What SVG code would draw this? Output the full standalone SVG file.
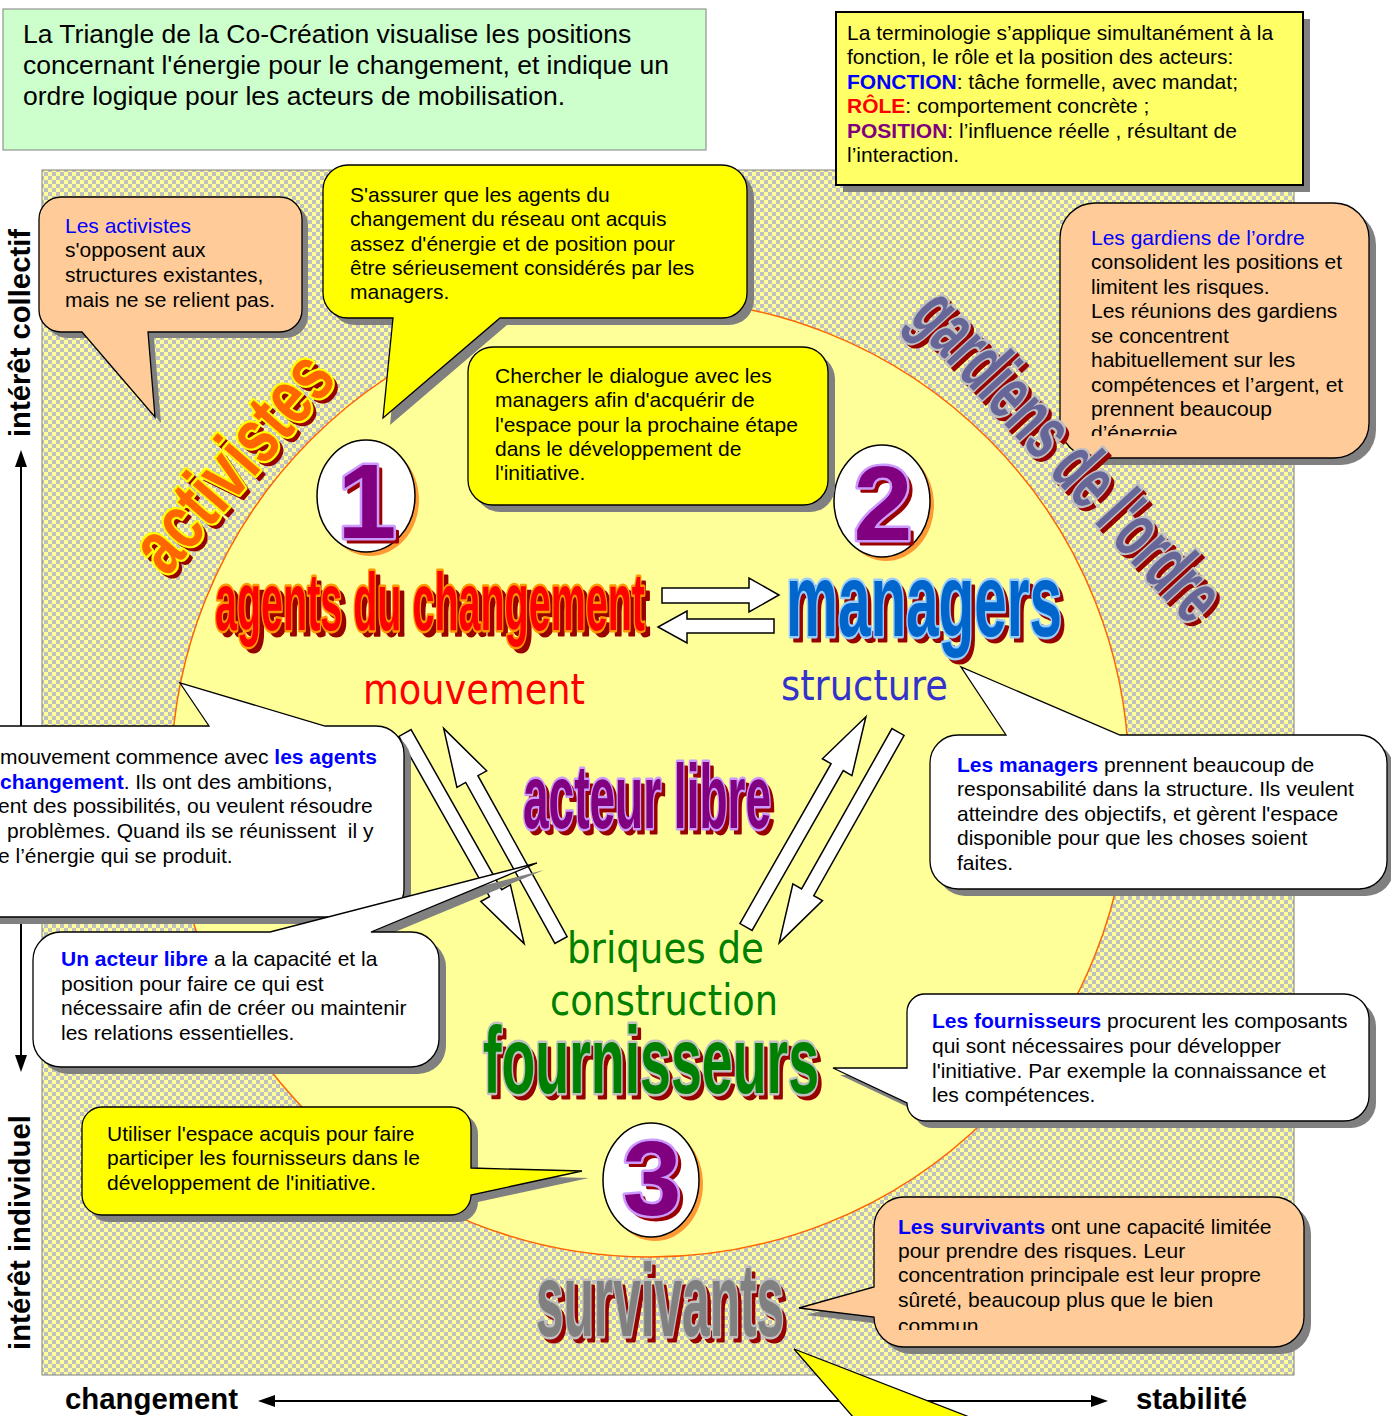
<svg xmlns="http://www.w3.org/2000/svg" width="1391" height="1416" viewBox="0 0 1391 1416">
<defs>
<pattern id="chk" width="8" height="8" patternUnits="userSpaceOnUse">
<rect width="8" height="8" fill="#ffff99"/>
<rect width="4" height="4" fill="#c0c0c0"/>
<rect x="4" y="4" width="4" height="4" fill="#c0c0c0"/>
</pattern>
<path id="darrow" d="M0,-7 H184 V-17 L242,0 L184,17 V7 H0 Z"/>
<path id="c-act" d="M61,197 H280 A22,22 0 0 1 302,219 V310 A22,22 0 0 1 280,332 H148 L155,417 L82,332 H61 A22,22 0 0 1 39,310 V219 A22,22 0 0 1 61,197 Z"/>
<path id="c-y1" d="M348,165 H722 A25,25 0 0 1 747,190 V293 A25,25 0 0 1 722,318 H500 L383,418 L393,318 H348 A25,25 0 0 1 323,293 V190 A25,25 0 0 1 348,165 Z"/>
<rect id="c-y2" x="468" y="347" width="360" height="158" rx="25"/>
<rect id="c-gar" x="1060" y="203" width="309" height="255" rx="35"/>
<path id="c-man" d="M958,735 H1006 L961,667 L1120,735 H1359 A28,28 0 0 1 1387,763 V861 A28,28 0 0 1 1359,889 H958 A28,28 0 0 1 930,861 V763 A28,28 0 0 1 958,735 Z"/>
<path id="c-mou" d="M-40,726 H209 L180,683 L325,726 H376 A28,28 0 0 1 404,754 V889 A28,28 0 0 1 376,917 H-40 Z"/>
<path id="c-lib" d="M61,932 H270 L537,863 L371,932 H411 A28,28 0 0 1 439,960 V1039 A28,28 0 0 1 411,1067 H61 A28,28 0 0 1 33,1039 V960 A28,28 0 0 1 61,932 Z"/>
<path id="c-y3" d="M102,1107 H451 A20,20 0 0 1 471,1127 V1168 L582,1171 L471,1195 A20,20 0 0 1 451,1215 H102 A20,20 0 0 1 82,1195 V1127 A20,20 0 0 1 102,1107 Z"/>
<path id="c-four" d="M925,994 H1344 A25,25 0 0 1 1369,1019 V1096 A25,25 0 0 1 1344,1121 H925 A18,18 0 0 1 907,1103 L833,1068 L907,1068 V1012 A18,18 0 0 1 925,994 Z"/>
<path id="c-sur" d="M904,1197 H1274 A30,30 0 0 1 1304,1227 V1317 A30,30 0 0 1 1274,1347 H904 A30,30 0 0 1 874,1317 L799,1308 L874,1287 V1227 A30,30 0 0 1 904,1197 Z"/>
<path id="c-bot" d="M794,1349 L990,1425 L860,1425 Z"/>
<clipPath id="clipG"><rect x="1060" y="200" width="320" height="236"/></clipPath>
<clipPath id="clipS"><rect x="870" y="1195" width="440" height="135"/></clipPath>
</defs>
<style>
text { font-family: "Liberation Sans", Arial, sans-serif; }
.t21 { font-size: 21px; fill: #000; }
.bb { font-weight: bold; fill: #0000ff; }
.blue { fill: #0000ff; }
.sh { fill: #808080; }
.ol { stroke: #000; stroke-width: 1.3; }
.peach { fill: #ffcc99; }
.yel { fill: #ffff00; }
.wht { fill: #ffffff; }
.wa { font-weight: bold; stroke-linejoin: round; }
.wash { fill: #990000; stroke: #990000; stroke-width: 3; }
.wam { stroke-width: 5; paint-order: stroke; }
.tah { font-family: "DejaVu Sans", Verdana, sans-serif; font-size: 42px; }
.arr { fill: #ffffff; stroke: #000; stroke-width: 1.5; }
.axis { font-weight: bold; font-size: 29px; fill: #000; }
</style>

<!-- background -->
<rect x="42" y="170" width="1252" height="1205" fill="url(#chk)" stroke="#808080" stroke-width="1"/>
<circle id="bigcircle" cx="650" cy="778" r="479" fill="#ffff99" stroke="#ff6600" stroke-width="1.5"/>

<!-- axes -->
<g id="axes">
<line x1="21" y1="462" x2="21" y2="1060" stroke="#000" stroke-width="2"/>
<polygon points="21,450 15,467 27,467" fill="#000"/>
<polygon points="21,1072 15,1055 27,1055" fill="#000"/>
<line x1="272" y1="1401" x2="1094" y2="1401" stroke="#000" stroke-width="2"/>
<polygon points="258,1401 275,1395 275,1407" fill="#000"/>
<polygon points="1108,1401 1091,1395 1091,1407" fill="#000"/>
<text class="axis" transform="translate(30,437) rotate(-90)" textLength="208" lengthAdjust="spacingAndGlyphs">intérêt collectif</text>
<text class="axis" transform="translate(30,1350) rotate(-90)" textLength="235" lengthAdjust="spacingAndGlyphs">intérêt individuel</text>
<text class="axis" x="65" y="1409" textLength="173" lengthAdjust="spacingAndGlyphs">changement</text>
<text class="axis" x="1136" y="1409" textLength="111" lengthAdjust="spacingAndGlyphs">stabilité</text>
</g>

<!-- connectors -->
<g id="connectors">
<path class="arr" d="M662,588 H749 V578 L779,595 L749,612 V603 H662 Z"/>
<path class="arr" d="M774,619 H687 V611 L658,627 L687,643 V633 H774 Z"/>
<use href="#darrow" class="arr" transform="translate(405,733) rotate(60.5)"/>
<use href="#darrow" class="arr" transform="translate(561,940) rotate(-119)"/>
<use href="#darrow" class="arr" transform="translate(746,927) rotate(-60.3)"/>
<use href="#darrow" class="arr" transform="translate(898,732) rotate(119.4)"/>
</g>

<!-- numbers -->
<g id="num1">
<ellipse cx="370" cy="500" rx="49" ry="56" fill="#ff9933"/>
<ellipse cx="366" cy="496" rx="49" ry="56" fill="#fff" stroke="#000" stroke-width="1.5"/>
<text class="wa wash" x="371" y="542" font-size="106" text-anchor="middle">1</text>
<text class="wa wam" x="367" y="538" font-size="106" text-anchor="middle" fill="#800080" stroke="#cc99ff">1</text>
</g>
<g id="num2">
<ellipse cx="886" cy="505" rx="48" ry="56" fill="#ff9933"/>
<ellipse cx="882" cy="501" rx="48" ry="56" fill="#fff" stroke="#000" stroke-width="1.5"/>
<text class="wa wash" x="887" y="544" font-size="106" text-anchor="middle">2</text>
<text class="wa wam" x="883" y="540" font-size="106" text-anchor="middle" fill="#800080" stroke="#cc99ff">2</text>
</g>
<g id="num3">
<ellipse cx="655" cy="1184" rx="48" ry="57" fill="#ff9933"/>
<ellipse cx="651" cy="1180" rx="48" ry="57" fill="#fff" stroke="#000" stroke-width="1.5"/>
<text class="wa wash" x="656" y="1219" font-size="106" text-anchor="middle">3</text>
<text class="wa wam" x="652" y="1215" font-size="106" text-anchor="middle" fill="#800080" stroke="#cc99ff">3</text>
</g>

<!-- word art -->
<g id="activistes">
<g transform="translate(237,466) rotate(-49)"><text class="wa wash" x="0" y="26" font-size="78" text-anchor="middle" textLength="262" lengthAdjust="spacingAndGlyphs">activistes</text></g>
<g transform="translate(233,462) rotate(-49)"><text class="wa wam" x="0" y="26" font-size="78" text-anchor="middle" textLength="262" lengthAdjust="spacingAndGlyphs" fill="#ff6600" stroke="#ffff00">activistes</text></g>
</g>
<g id="agents">
<text class="wa wash" x="220" y="635" font-size="82" textLength="430" lengthAdjust="spacingAndGlyphs">agents du changement</text>
<text class="wa wam" x="215" y="630" font-size="82" textLength="430" lengthAdjust="spacingAndGlyphs" fill="#ff0000" stroke="#ff9900">agents du changement</text>
</g>
<g id="managers">
<text class="wa wash" x="790" y="641" font-size="104" textLength="276" lengthAdjust="spacingAndGlyphs">managers</text>
<text class="wa wam" x="786" y="636" font-size="104" textLength="276" lengthAdjust="spacingAndGlyphs" fill="#0066cc" stroke="#99ccff">managers</text>
</g>
<g id="acteur">
<text class="wa wash" x="527" y="833" font-size="90" textLength="248" lengthAdjust="spacingAndGlyphs">acteur libre</text>
<text class="wa wam" x="523" y="828" font-size="90" textLength="248" lengthAdjust="spacingAndGlyphs" fill="#800080" stroke="#cc99ff">acteur libre</text>
</g>
<g id="fournisseurs">
<text class="wa wash" x="487" y="1098" font-size="94" textLength="336" lengthAdjust="spacingAndGlyphs">fournisseurs</text>
<text class="wa wam" x="483" y="1093" font-size="94" textLength="336" lengthAdjust="spacingAndGlyphs" fill="#008000" stroke="#c0c0c0">fournisseurs</text>
</g>
<g id="survivants">
<text class="wa wash" x="540" y="1341" font-size="104" textLength="248" lengthAdjust="spacingAndGlyphs">survivants</text>
<text class="wa wam" x="536" y="1336" font-size="104" textLength="248" lengthAdjust="spacingAndGlyphs" fill="#808080" stroke="#c0c0c0">survivants</text>
</g>
<g id="labels">
<text class="tah" x="363" y="704" textLength="222" lengthAdjust="spacingAndGlyphs" fill="#ff0000">mouvement</text>
<text class="tah" x="781" y="700" textLength="167" lengthAdjust="spacingAndGlyphs" fill="#3333cc">structure</text>
<text class="tah" x="567" y="963" textLength="197" lengthAdjust="spacingAndGlyphs" fill="#008000">briques de</text>
<text class="tah" x="550" y="1015" textLength="228" lengthAdjust="spacingAndGlyphs" fill="#008000">construction</text>
</g>

<!-- top boxes -->
<g id="intro">
<rect x="3" y="9" width="703" height="141" fill="#ccffcc" stroke="#808080" stroke-width="1"/>
<text x="23" y="43" font-size="26.5">La Triangle de la Co-Création visualise les positions</text>
<text x="23" y="74" font-size="26.5">concernant l'énergie pour le changement, et indique un</text>
<text x="23" y="105" font-size="26.5">ordre logique pour les acteurs de mobilisation.</text>
</g>
<g id="terminologie">
<rect x="843" y="19" width="467" height="173" class="sh"/>
<rect x="836" y="12" width="467" height="173" fill="#ffff66" stroke="#000" stroke-width="2"/>
<text class="t21" x="847" y="40">La terminologie s’applique simultanément à la</text>
<text class="t21" x="847" y="64">fonction, le rôle et la position des acteurs:</text>
<text class="t21" x="847" y="89"><tspan font-weight="bold" fill="#0000ff">FONCTION</tspan>: tâche formelle, avec mandat;</text>
<text class="t21" x="847" y="113"><tspan font-weight="bold" fill="#ff0000">RÔLE</tspan>: comportement concrète ;</text>
<text class="t21" x="847" y="138"><tspan font-weight="bold" fill="#800080">POSITION</tspan>: l’influence réelle , résultant de</text>
<text class="t21" x="847" y="162">l’interaction.</text>
</g>

<!-- callouts -->
<g id="callout-activistes">
<use href="#c-act" class="sh" transform="translate(6,6)"/>
<use href="#c-act" class="peach ol"/>
<text class="t21" x="65" y="233"><tspan class="blue">Les activistes</tspan></text>
<text class="t21" x="65" y="257">s'opposent aux</text>
<text class="t21" x="65" y="282">structures existantes,</text>
<text class="t21" x="65" y="307">mais ne se relient pas.</text>
</g>
<g id="callout-assurer">
<use href="#c-y1" class="sh" transform="translate(7,7)"/>
<use href="#c-y1" class="yel ol"/>
<text class="t21" x="350" y="202">S'assurer que les agents du</text>
<text class="t21" x="350" y="226">changement du réseau ont acquis</text>
<text class="t21" x="350" y="251">assez d'énergie et de position pour</text>
<text class="t21" x="350" y="275">être sérieusement considérés par les</text>
<text class="t21" x="350" y="299">managers.</text>
</g>
<g id="callout-chercher">
<use href="#c-y2" class="sh" transform="translate(7,7)"/>
<use href="#c-y2" class="yel ol"/>
<text class="t21" x="495" y="383">Chercher le dialogue avec les</text>
<text class="t21" x="495" y="407">managers afin d'acquérir de</text>
<text class="t21" x="495" y="432">l'espace pour la prochaine étape</text>
<text class="t21" x="495" y="456">dans le développement de</text>
<text class="t21" x="495" y="480">l'initiative.</text>
</g>
<g id="callout-gardiens">
<use href="#c-gar" class="sh" transform="translate(7,7)"/>
<use href="#c-gar" class="peach ol"/>
<g clip-path="url(#clipG)">
<text class="t21" x="1091" y="245"><tspan class="blue">Les gardiens de l’ordre</tspan></text>
<text class="t21" x="1091" y="269">consolident les positions et</text>
<text class="t21" x="1091" y="294">limitent les risques.</text>
<text class="t21" x="1091" y="318">Les réunions des gardiens</text>
<text class="t21" x="1091" y="343">se concentrent</text>
<text class="t21" x="1091" y="367">habituellement sur les</text>
<text class="t21" x="1091" y="392">compétences et l’argent, et</text>
<text class="t21" x="1091" y="416">prennent beaucoup</text>
<text class="t21" x="1091" y="440">d’énergie</text>
</g>
</g>
<g id="callout-managers">
<use href="#c-man" class="sh" transform="translate(7,7)"/>
<use href="#c-man" class="wht ol"/>
<text class="t21" x="957" y="772"><tspan class="bb">Les managers</tspan> prennent beaucoup de</text>
<text class="t21" x="957" y="796">responsabilité dans la structure. Ils veulent</text>
<text class="t21" x="957" y="821">atteindre des objectifs, et gèrent l'espace</text>
<text class="t21" x="957" y="845">disponible pour que les choses soient</text>
<text class="t21" x="957" y="870">faites.</text>
</g>
<g id="callout-mouvement">
<use href="#c-mou" class="sh" transform="translate(7,7)"/>
<use href="#c-mou" class="wht ol"/>
<text class="t21" x="0" y="764">mouvement commence avec <tspan class="bb">les agents</tspan></text>
<text class="t21" x="0" y="789"><tspan class="bb">changement</tspan>. Ils ont des ambitions,</text>
<text class="t21" x="-2" y="813">ent des possibilités, ou veulent résoudre</text>
<text class="t21" x="7" y="838">problèmes. Quand ils se réunissent&#160; il y</text>
<text class="t21" x="-2" y="863">e l’énergie qui se produit.</text>
</g>
<g id="callout-acteur">
<use href="#c-lib" class="sh" transform="translate(7,7)"/>
<use href="#c-lib" class="wht ol"/>
<text class="t21" x="61" y="966"><tspan class="bb">Un acteur libre</tspan> a la capacité et la</text>
<text class="t21" x="61" y="991">position pour faire ce qui est</text>
<text class="t21" x="61" y="1015">nécessaire afin de créer ou maintenir</text>
<text class="t21" x="61" y="1040">les relations essentielles.</text>
</g>
<g id="callout-utiliser">
<use href="#c-y3" class="sh" transform="translate(7,7)"/>
<use href="#c-y3" class="yel ol"/>
<text class="t21" x="107" y="1141">Utiliser l'espace acquis pour faire</text>
<text class="t21" x="107" y="1165">participer les fournisseurs dans le</text>
<text class="t21" x="107" y="1190">développement de l'initiative.</text>
</g>
<g id="callout-fournisseurs">
<use href="#c-four" class="sh" transform="translate(7,7)"/>
<use href="#c-four" class="wht ol"/>
<text class="t21" x="932" y="1028"><tspan class="bb">Les fournisseurs</tspan> procurent les composants</text>
<text class="t21" x="932" y="1053">qui sont nécessaires pour développer</text>
<text class="t21" x="932" y="1078">l'initiative. Par exemple la connaissance et</text>
<text class="t21" x="932" y="1102">les compétences.</text>
</g>
<g id="callout-survivants">
<use href="#c-sur" class="sh" transform="translate(7,7)"/>
<use href="#c-sur" class="peach ol"/>
<g clip-path="url(#clipS)">
<text class="t21" x="898" y="1234"><tspan class="bb">Les survivants</tspan> ont une capacité limitée</text>
<text class="t21" x="898" y="1258">pour prendre des risques. Leur</text>
<text class="t21" x="898" y="1282">concentration principale est leur propre</text>
<text class="t21" x="898" y="1307">sûreté, beaucoup plus que le bien</text>
<text class="t21" x="898" y="1333">commun.</text>
</g>
</g>
<g id="callout-bottom">
<use href="#c-bot" class="sh" transform="translate(7,5)"/>
<use href="#c-bot" class="yel ol"/>
</g>

<!-- gardiens word art on top -->
<g id="gardiens">
<g transform="translate(1069,462) rotate(47.5)"><text class="wa wash" x="0" y="22" font-size="78" text-anchor="middle" textLength="418" lengthAdjust="spacingAndGlyphs">gardiens de l'ordre</text></g>
<g transform="translate(1065,458) rotate(47.5)"><text class="wa wam" x="0" y="22" font-size="78" text-anchor="middle" textLength="418" lengthAdjust="spacingAndGlyphs" fill="#666699" stroke="#c0c0c0">gardiens de l'ordre</text></g>
</g>
</svg>
